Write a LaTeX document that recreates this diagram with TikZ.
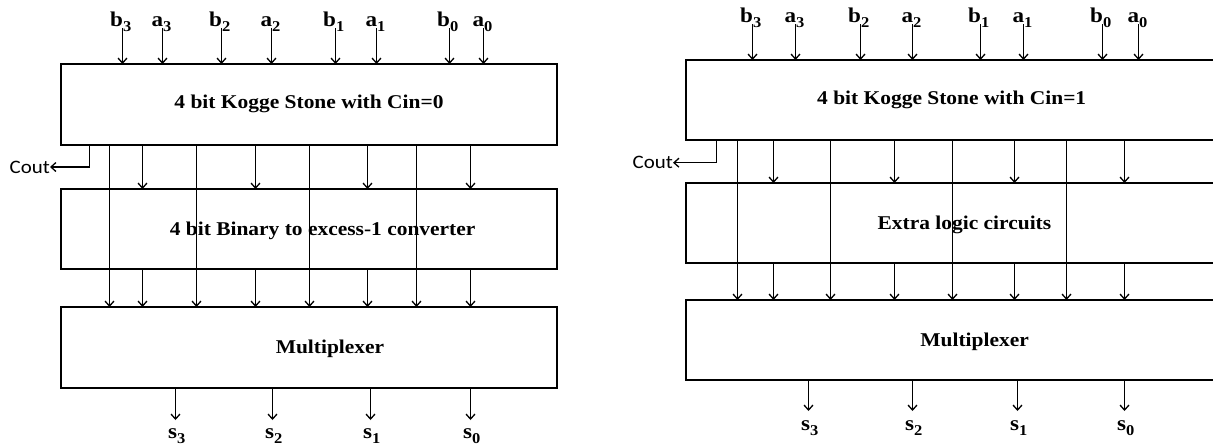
\documentclass[tikz,border=0pt]{standalone}
\usepackage{fontspec}
\setmainfont{Liberation Serif}[FakeStretch=1.1]
\newfontfamily\coutfont{Carlito}[FakeStretch=1.1]
\usetikzlibrary{arrows.meta}
\newcommand\sub[1]{\raisebox{-5pt}{\fontsize{15}{15}\selectfont #1}}
\tikzset{
  x=1pt, y=-1pt,
  blk/.style={draw, line width=2.6pt, inner sep=0pt, outer sep=0pt, anchor=north west},
  wire/.style={line width=1.5pt},
  arr/.style={wire, -{Straight Barb[length=5pt,width=9pt,line width=1.3pt]}},
  lbl/.style={inner sep=0pt, font=\fontsize{21}{21}\selectfont\bfseries},
  boxtxt/.style={inner sep=0pt, font=\fontsize{19.5}{19.5}\selectfont\bfseries},
  coutlbl/.style={inner sep=0pt, anchor=east, font=\coutfont\fontsize{19}{19}\selectfont},
}
\begin{document}
\begin{tikzpicture}
\useasboundingbox (0,0) rectangle (1213,445);
\clip (0,0) rectangle (1213,445);

% ---------------- adder with carry-in 0 and BEC ----------------
\node[blk, minimum width=496pt, minimum height=81pt] (ksL)  at (61,64)  {};
\node[blk, minimum width=496pt, minimum height=80pt] (becL) at (61,189) {};
\node[blk, minimum width=496pt, minimum height=81pt] (muxL) at (61,307) {};
\node[boxtxt] (ksLt)  at (309,104) {4 bit Kogge Stone with Cin=0};
\node[boxtxt] (becLt) at (322.6,231) {4 bit Binary to excess-1 converter};
\node[boxtxt] (muxLt) at (330,349) {Multiplexer};

% operand inputs
\foreach \x/\l/\s [count=\i] in {122.5/b/3,162.5/a/3,221.5/b/2,271.5/a/2,335.5/b/1,376.5/a/1,449.5/b/0,483.5/a/0}{
  \node[lbl, anchor=base east] (inL\i) at (\x+9,26) {\l\sub{\s}};
  \coordinate (pL\i) at (\x,28);
  \draw[arr] (pL\i) -- (pL\i |- ksL.north);
}
% sum bits passed straight to the multiplexer
\foreach \x [count=\i] in {109.5,196.5,309.5,416.5}{
  \coordinate (qL\i) at (\x,0);
  \draw[arr] (qL\i |- ksL.south) -- (qL\i |- muxL.north);
}
% sum bits through the converter
\foreach \x [count=\i] in {142.5,255.5,367.5,470.5}{
  \coordinate (rL\i) at (\x,0);
  \draw[arr] (rL\i |- ksL.south) -- (rL\i |- becL.north);
  \draw[arr] (rL\i |- becL.south) -- (rL\i |- muxL.north);
}
% outputs
\foreach \x/\s [count=\i] in {175.5/3,272.5/2,370.5/1,470.5/0}{
  \coordinate (oL\i) at (\x,420);
  \draw[arr] (oL\i |- muxL.south) -- (oL\i);
  \node[lbl, anchor=base east] (sL\i) at (\x+10,438) {s\sub{\s}};
}
% carry out
\node[coutlbl] (coutL) at (50,167) {Cout};
\coordinate (cL) at (89.5,0);
\draw[arr] (cL |- ksL.south) |- (coutL.east);

% ---------------- adder with carry-in 1 and extra logic ----------------
\node[blk, minimum width=600pt, minimum height=80pt] (ksR)  at (686,60)  {};
\node[blk, minimum width=600pt, minimum height=80pt] (elR)  at (686,183) {};
\node[blk, minimum width=600pt, minimum height=80pt] (muxR) at (686,300) {};
\node[boxtxt] (ksRt)  at (951.7,99.5) {4 bit Kogge Stone with Cin=1};
\node[boxtxt] (elRt)  at (964.4,225) {Extra logic circuits};
\node[boxtxt] (muxRt) at (974.6,342) {Multiplexer};

\foreach \x/\l/\s [count=\i] in {752.5/b/3,795.5/a/3,860.5/b/2,912.5/a/2,980.5/b/1,1023.5/a/1,1102.5/b/0,1138.5/a/0}{
  \node[lbl, anchor=base east] (inR\i) at (\x+9,22) {\l\sub{\s}};
  \coordinate (pR\i) at (\x,24);
  \draw[arr] (pR\i) -- (pR\i |- ksR.north);
}
\foreach \x [count=\i] in {737.5,830.5,952.5,1066.5}{
  \coordinate (qR\i) at (\x,0);
  \draw[arr] (qR\i |- ksR.south) -- (qR\i |- muxR.north);
}
\foreach \x [count=\i] in {773.5,894.5,1014.5,1124.5}{
  \coordinate (rR\i) at (\x,0);
  \draw[arr] (rR\i |- ksR.south) -- (rR\i |- elR.north);
  \draw[arr] (rR\i |- elR.south) -- (rR\i |- muxR.north);
}
\foreach \x/\s [count=\i] in {808.5/3,912.5/2,1017.5/1,1124.5/0}{
  \coordinate (oR\i) at (\x,411);
  \draw[arr] (oR\i |- muxR.south) -- (oR\i);
  \node[lbl, anchor=base east] (sR\i) at (\x+10,430.5) {s\sub{\s}};
}
\node[coutlbl] (coutR) at (673,162.7) {Cout};
\coordinate (cR) at (716.5,0);
\draw[arr] (cR |- ksR.south) |- (coutR.east);
\end{tikzpicture}
\end{document}
